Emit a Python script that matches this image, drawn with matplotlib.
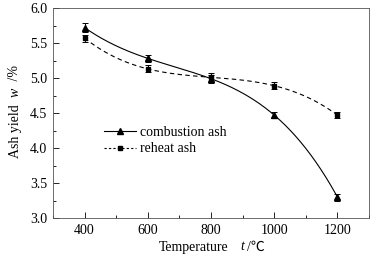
import numpy as np
import matplotlib
matplotlib.use("Agg")
import matplotlib.pyplot as plt
from matplotlib.ticker import MultipleLocator, FormatStrFormatter

temps = [400, 600, 800, 1000, 1200]
combustion = [5.72, 5.28, 4.99, 4.47, 3.30]
combustion_err = [0.06, 0.05, 0.06, 0.04, 0.05]
reheat = [5.57, 5.13, 5.01, 4.89, 4.47]
reheat_err = [0.05, 0.05, 0.06, 0.05, 0.04]

FONT = ['Liberation Serif', 'Noto Sans CJK SC', 'DejaVu Sans']
plt.rcParams['font.family'] = FONT
plt.rcParams['font.size'] = 10


def smooth(x, y):
    # interpolating polynomial through the points, only for the drawn curve
    c = np.polyfit(x, y, len(x) - 1)
    xs = np.linspace(min(x), max(x), 200)
    return xs, np.polyval(c, xs)


W, H = 377, 259
fig = plt.figure(figsize=(W / 100, H / 100), dpi=100)
ax = fig.add_axes([53 / W, 1 - 218 / H, 316 / W, 210 / H])

xs, ys = smooth(temps, combustion)
ax.plot(xs, ys, color='black', lw=0.8, ls='-')
xs, ys = smooth(temps, reheat)
ax.plot(xs, ys, color='black', lw=0.8, ls=(0, (4, 3)))

ax.errorbar(temps, combustion, yerr=combustion_err, fmt='^', color='black',
            ms=4.5, capsize=2.5, elinewidth=0.7, capthick=0.7)
ax.errorbar(temps, reheat, yerr=reheat_err, fmt='s', color='black',
            ms=3.5, capsize=2.5, elinewidth=0.7, capthick=0.7)

# legend handles
h1, = ax.plot([], [], color='black', lw=0.8, marker='^', ms=4)
h2, = ax.plot([], [], color='black', lw=0.8, ls=(0, (2, 2)), marker='s', ms=3)
ax.legend([h1, h2], ['combustion ash', 'reheat ash'], loc='upper left',
          bbox_to_anchor=(0.145, 0.465), frameon=False, handlelength=2.3,
          handletextpad=0.3, labelspacing=0.25, fontsize=10, borderaxespad=0)

ax.set_xlim(300, 1300)
ax.set_ylim(3.0, 6.0)
ax.set_xticks(temps)
ax.xaxis.set_minor_locator(MultipleLocator(100))
ax.yaxis.set_major_locator(MultipleLocator(0.5))
ax.yaxis.set_minor_locator(MultipleLocator(0.25))
ax.yaxis.set_major_formatter(FormatStrFormatter('%.1f'))
ax.tick_params(which='both', direction='in', top=False, right=False, labelsize=10)
ax.tick_params(which='major', length=4, width=0.6, pad=4)
ax.tick_params(which='minor', length=2, width=0.6)
for s in ax.spines.values():
    s.set_linewidth(0.6)
    s.set_color('#555555')

# axis labels built from pieces so the italic symbols and ℃ both render
fig.text(194 / W, 1 - 247 / H, 'Temperature', ha='center', va='center', fontsize=10)
fig.text(242 / W, 1 - 247 / H, 't', ha='center', va='center', fontsize=10, style='italic')
fig.text(247 / W, 1 - 247 / H, '/℃', ha='left', va='center', fontsize=10)

fig.text(15 / W, 1 - 158 / H, 'Ash yield', ha='center', va='bottom', rotation=90, fontsize=10)
fig.text(15 / W, 1 - 92 / H, 'w', ha='center', va='center', rotation=90, fontsize=10, style='italic')
fig.text(15 / W, 1 - 84 / H, ' /%', ha='center', va='bottom', rotation=90, fontsize=10)

fig.savefig('out.png', dpi=100)
